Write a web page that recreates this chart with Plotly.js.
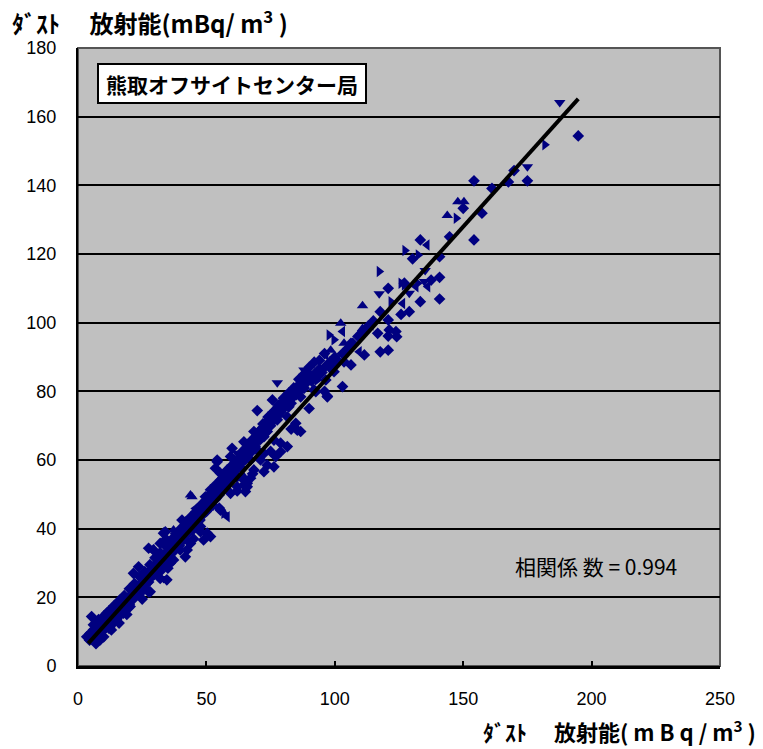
<!DOCTYPE html>
<html>
<head>
<meta charset="utf-8">
<script src="https://cdn.plot.ly/plotly-3.0.1.min.js"></script>
<style>html,body{margin:0;padding:0;background:#fff;}#chart{width:763px;height:749px;}</style>
</head>
<body>
<div id="chart"></div>
<script>
// Diamond markers (x = dust activity, y = dust activity, mBq/m3)
const diamondX = [194.8,175,169.8,167.6,154.2,161.2,150,157.3,144.7,154.2,133.3,130.3,140.8,140.8,133.3,140.8,120.8,117.7,125.8,129,120.8,120.8,124.1,117.7,120.8,103,97.1,69.8,60,54.2,54.2,5.3,28.1,34,47.7,64.6,65.9,137.5,127.1,
116.7,121.2,123.8,106.3,111.5,100.4,103.6,106.3,98.4,99.7,93.9,96.5,88,91.9,97.1,85.4,92.6,84.1,86.7,75.7,78.9,82.1,75,77.6,73.7,81.5,84.8,86.7,85.4,68.5,71.1,73.7,64.6,67.8,72.4,76.3,78.9,81.5,67.2,69.8,72.4,78.9,77,64.6,67.2,63.3,71.1,73.7,76.3,60.7,58.1,55.5,53.5,68.5,72.4,62,64.6,67.2,55.5,57.4,53.5,59.4,64.6,56.8,59.4,65.9,65.2,51.6,49.6,52.9,59.4,62,55.5,40.5,42.5,47.7,50.3,33.3,34.6,32,37.9,48.9,51.6,29.4,27.5,42.5,43.8,3.4,27.5,21.6,23.6,33.3,39.8,41.8,32,35.9,16.4,13.8,11.2,8.6,6.6,4.7,20.3,17.7,24.2,26.8,30.7,34.6,9.9,12.5,8.6,32,37.2,
4.5,5,5.5,6,6.5,7,7.5,8,8,8.5,9,9.5,10,10,10.5,11,11.5,12,12,12.5,13,13,13.5,14,14,14.5,15,15,15.5,16,16,16.5,17,17.5,18,18,18.5,19,19.5,20,20,20.5,21,21.5,22,22,22.5,23,23.5,24,24,24.5,25,25,25.5,26,26,26.5,27,27.5,28,28,28.5,29,29.5,30,30,30.5,31,31.5,32,32,32.5,33,33.5,34,34,34.5,35,35.5,36,36,36.5,37,37.5,38,38,38.5,39,39.5,40,40,40.5,41,41.5,42,42,42.5,43,43.5,44,44,44.5,45,45,45.5,46,46.5,47,47,47.5,48,48.5,49,49,49.5,50,50,50.5,51,51.5,52,52,52.5,53,53.5,54,54,54.5,55,55,56,56,57,57,58,58,59,59,60,60,61,61,62,62,63,63,64,64,65,65,66,66,67,67,68,68,69,69,70,70,71,71,72,72,73,73,74,74,75,75,76,77,77,78,78,79,80,80,81,82,83,84,85,85,86,87,88,88,89,90,91,92,93,94,95,96,98,99,100,101,103,105,107,109,111,113,115,
20,22,24,26,28,30,32,34,36,38,40,42,44,46,48,50,52,54,56,58,60,62,64,66,68,70,72,74,76,78,80,82,84,86,88,90,92,94,96,
25,35,45,55,62,68,75,83,90,96,
6,8,10,12,14,16,18,7,10,13,16,19];
const diamondY = [154.4,141.3,144.3,141,141.3,139.1,133.3,131.9,125,124.1,124.1,118.6,119.2,113.2,106.1,106.9,110,103.2,102.4,103.2,100.8,96.1,95.9,91.5,92,81.4,78.4,74.4,63.4,60,59.5,14.4,21.6,39.1,39.1,52.7,52.2,112.4,111.5,
96.9,97.9,97.4,94,90.6,89.1,88.6,87.7,86.7,85.7,86.2,83.3,80.9,80.4,78.6,81.4,79.9,79.4,78.4,77.5,74.6,75.5,73.1,71.7,71.2,72.6,70.7,68.3,68.7,68.3,68.7,68.3,65.3,65.8,66.8,65.8,64.9,63.9,63.4,62.9,61.9,62.4,61,61,60,59,60,58.5,58,58,57.1,56.1,57.6,57.1,56.6,55.1,54.2,54.7,54.2,53.2,52.7,61,60,55.1,57.1,53.2,50.8,51.3,49.3,48.8,50.3,52.2,45.4,42.5,40.6,40.6,38.7,38.7,36.7,35.7,37.7,36.7,37.7,33.8,34.3,33.8,35.7,8.5,21.6,27,28.9,36.2,33.8,31.8,25.5,29.9,19.2,17.3,15.4,12.4,10.5,9.5,17.3,15.4,21.2,24.1,27,25.1,10.5,11.4,7.6,27.5,30.9,
7.5,9,8,10.5,9,8.5,11,10,12,9.5,11.5,10.5,12,10.5,13,11.5,12.5,11,13.5,12,14,12.5,13.5,15,12.8,14,15.5,13.5,16,14.5,17,15.5,16.5,18,16,18.5,17.5,19,17,20,18,19.5,21,19.5,22,20,21.5,22.5,21,23.5,22,24,24.5,22.5,25,23.5,26,25,26.5,24.5,27.5,25.5,27,28.5,26.5,29.5,27.5,28.5,30,28,31,29.5,30.5,32,29.8,32.5,31,33,33.5,31.5,34.5,32.8,34,35.5,33.5,36,34.5,37,36.5,35,38,36,37.5,39,37,39.5,38,40.5,39,41,40,42,39.5,42.5,41,43.5,41.5,44,43,45,42.5,45.5,44,46.5,44.5,45.5,47,45,48,46,48.5,47.5,49.5,46.8,50,48.5,51,49,50.5,52,49.8,51.5,53.5,52,54.5,53.5,55.5,54,56.5,55.5,57.5,56,58.5,57.5,59.5,58,60.5,59.5,61.5,60,62.5,61.5,63.5,62,64.5,63.5,65.5,64,66.5,65.5,67.5,66,68.5,67,69.5,68,70.5,69.5,71.5,70,72.5,71.5,72,74,73,75.5,74,75,77,76,77.5,76.5,78.5,79,81,80,82,81,83.5,82.5,84,83,85,84,86.5,85.5,87,88.5,87,90,89,91,92.5,94,96,97.5,99,100.5,
22.5,24,26,27.5,29.5,31.5,33,35,36.5,38.5,40,42,43.5,45,47,48.5,50.5,52.5,54.5,56,58.5,60,62.5,64.5,66,68,70.5,72.5,74,76,78,79.5,81,83.5,85,87,88.5,89,91,
19.5,28.5,37,46,51,56,62.5,69,75,80,
12,13.5,14.5,16,17.5,19,20.5,6.5,8.5,10.5,12.5,15];

// Triangle markers
const triUpX = [147.9,150.3,143.8,110.8,102.3,110.8,103.6,43.8,44.4,98.4,64.6,37.2];
const triUpY = [135.2,135.2,131.2,104.9,99.8,98.3,94,49.8,49.3,92,55.1,39.6];
const triDownX = [187.6,175,135.2,129,117.3,77.6,134.9,88,90.6,62,33.3];
const triDownY = [164.1,145.4,115.2,108.6,108.4,82.5,112,86.2,85.3,62,25.5];
const triLeftX = [135.9,131.6,126.4,114.1,103,109.5,96.5,45.7,58.1,28.8,136.2];
const triLeftY = [122.6,110.5,105.6,99.3,97.4,91.5,90.6,45.9,43.5,33.8,110.5];
const triRightX = [181.8,147.3,127.3,132.5,125.8,127.1,132.3,117.3,97.8,99.7,121.9,89.3,93.2,56.8];
const triRightY = [151.8,130.4,121,119.7,111.5,111,111.5,114.9,96.4,95,106.1,83.3,83.3,44.5];

// Regression line end points
const fitX = [4.0, 194.8];
const fitY = [6.6, 165.2];

const xTicks = [0, 50, 100, 150, 200, 250];
const yTicks = [0, 20, 40, 60, 80, 100, 120, 140, 160, 180];

const stationLabel = '熊取オフサイトセンター局';
const corrLabel = '相関係 数 = 0.994';
const yAxisLabel = 'ﾀﾞｽﾄ　 放射能(mBq/ m<sup>3</sup> )';
const xAxisLabel = 'ﾀﾞｽﾄ　 放射能( m B q / m<sup>3</sup> )';

const navy = '#000080';
function pts(x, y, sym, size) {
  return {x: x, y: y, type: 'scatter', mode: 'markers', cliponaxis: false,
    marker: {symbol: sym, size: size, color: navy, line: {width: 0}}, hoverinfo: 'skip'};
}

const data = [
  pts(diamondX, diamondY, 'diamond', 9),
  pts(triUpX, triUpY, 'triangle-up', 10),
  pts(triDownX, triDownY, 'triangle-down', 10),
  pts(triLeftX, triLeftY, 'triangle-left', 10),
  pts(triRightX, triRightY, 'triangle-right', 10),
  {x: fitX, y: fitY, type: 'scatter', mode: 'lines', line: {color: '#000', width: 4}, hoverinfo: 'skip'}
];

const tickFont = {family: 'Liberation Sans, Arial, sans-serif', size: 18, color: '#000'};

const layout = {
  width: 763, height: 749,
  margin: {l: 78, r: 43, t: 48, b: 83},
  paper_bgcolor: '#ffffff',
  plot_bgcolor: '#c0c0c0',
  showlegend: false,
  xaxis: {
    range: [0, 250], tickvals: xTicks, ticktext: xTicks.map(String),
    showgrid: false, zeroline: false,
    showline: true, linecolor: '#000', linewidth: 3, mirror: false,
    ticks: 'inside', ticklen: 5, tickwidth: 2, tickcolor: '#000',
    tickfont: tickFont, ticklabelstandoff: 14
  },
  yaxis: {
    range: [0, 180], tickvals: yTicks, ticktext: yTicks.map(String),
    showgrid: true, gridcolor: '#000', gridwidth: 2, zeroline: false,
    showline: true, linecolor: '#000', linewidth: 2,
    ticks: '', tickfont: tickFont, ticklabelstandoff: 16
  },
  shapes: [
    {type: 'rect', xref: 'paper', yref: 'paper', x0: 0, x1: 1, y0: 0, y1: 1,
     line: {color: '#555', width: 2}, fillcolor: 'rgba(0,0,0,0)', layer: 'below'}
  ],
  annotations: [
    {xref: 'paper', yref: 'paper', x: 0.0296, y: 0.9757, xanchor: 'left', yanchor: 'top',
     text: '<b>' + stationLabel + '</b>', showarrow: false, align: 'center',
     bgcolor: '#ffffff', bordercolor: '#000', borderwidth: 2, borderpad: 2,
     width: 262, height: 33,
     font: {family: 'Noto Sans CJK JP, sans-serif', size: 21, color: '#000'}},
    {xref: 'x', yref: 'y', x: 201.6, y: 29.1, xanchor: 'center', yanchor: 'middle',
     text: corrLabel, showarrow: false,
     font: {family: 'Noto Sans CJK JP, sans-serif', size: 21, color: '#000'}},
    {xref: 'paper', yref: 'paper', x: -0.106, y: 1.042, xanchor: 'left', yanchor: 'middle',
     text: '<b>' + yAxisLabel + '</b>', showarrow: false,
     font: {family: 'Noto Sans CJK JP, sans-serif', size: 24, color: '#000'}},
    {xref: 'paper', yref: 'paper', x: 1.059, y: -0.1036, xanchor: 'right', yanchor: 'middle',
     text: '<b>' + xAxisLabel + '</b>', showarrow: false,
     font: {family: 'Noto Sans CJK JP, sans-serif', size: 22, color: '#000'}}
  ]
};

Plotly.newPlot('chart', data, layout, {displayModeBar: false, staticPlot: true});
</script>
</body>
</html>
